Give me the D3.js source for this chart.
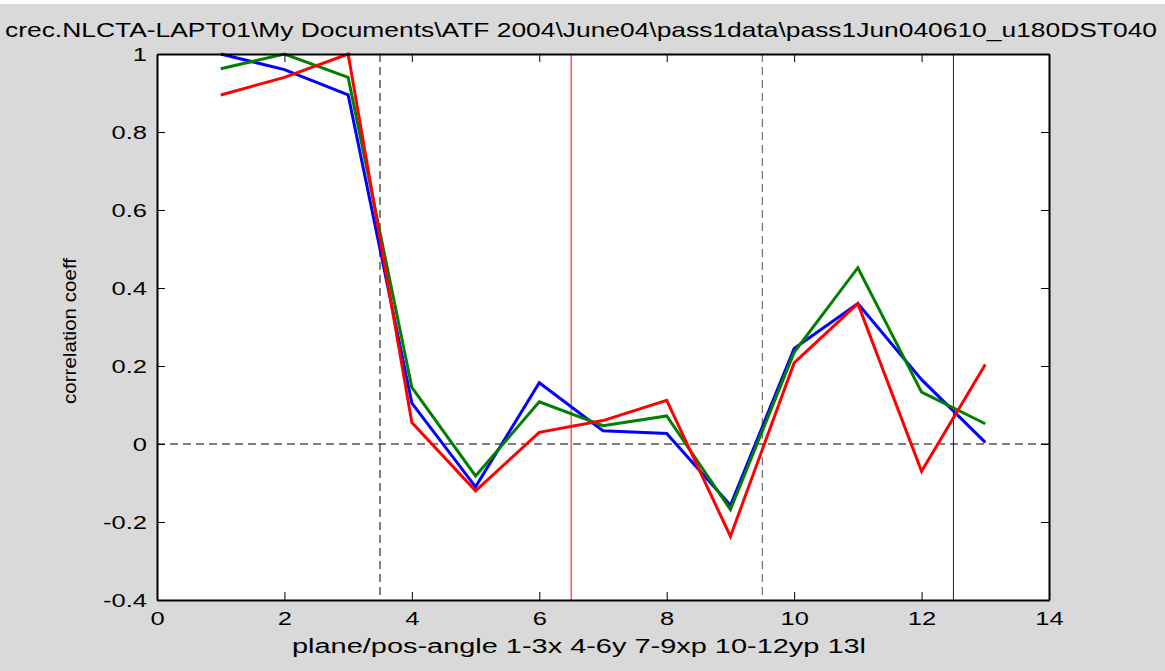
<!DOCTYPE html>
<html>
<head>
<meta charset="utf-8">
<script src="https://cdn.jsdelivr.net/npm/d3@7"></script>
<style>
  body { margin: 0; background: #d9d9d9; }
  text { font-family: "Liberation Sans", Arial, sans-serif; fill: #000; }
</style>
</head>
<body>
<div id="chart"></div>
<script>
// data
var planes = [1, 2, 3, 4, 5, 6, 7, 8, 9, 10, 11, 12, 13];
var blueVals = [1.0, 0.96, 0.895, 0.105, -0.11, 0.157, 0.034, 0.027, -0.157, 0.245, 0.36, 0.165, 0.004];
var greenVals = [0.962, 1.0, 0.94, 0.145, -0.082, 0.108, 0.047, 0.072, -0.168, 0.235, 0.452, 0.133, 0.052];
var redVals = [0.895, 0.94, 1.0, 0.055, -0.12, 0.03, 0.06, 0.112, -0.237, 0.208, 0.36, -0.07, 0.204];
var xTicks = [0, 2, 4, 6, 8, 10, 12, 14];
var yTicks = [-0.4, -0.2, 0, 0.2, 0.4, 0.6, 0.8, 1];
var dashedMarks = [3.5, 9.5];
var solidMarks = [{x: 6.5, c: "#ff0000"}, {x: 12.5, c: "#0000ff"}];

var svgWidth = 1165;
var svgHeight = 671;
var margin = {top: 54, right: 116, bottom: 71, left: 157};
var width = svgWidth - margin.left - margin.right;
var height = svgHeight - margin.top - margin.bottom;

var svg = d3.select("#chart")
    .append("svg")
    .attr("width", svgWidth)
    .attr("height", svgHeight);

svg.append("rect").attr("width", svgWidth).attr("height", svgHeight).attr("fill", "#d9d9d9");
svg.append("rect").attr("width", svgWidth).attr("height", 4).attr("fill", "#fff");

var chartGroup = svg.append("g")
    .attr("transform", "translate(" + margin.left + "," + margin.top + ")");

var xScale = d3.scaleLinear().domain([0, 14]).range([0, width]);
var yScale = d3.scaleLinear().domain([-0.4, 1]).range([height, 0]);

chartGroup.append("rect")
    .attr("width", width).attr("height", height)
    .attr("fill", "#fff");

// reference lines
chartGroup.selectAll(".vdash")
    .data(dashedMarks)
    .enter()
    .append("line")
    .attr("x1", d => xScale(d)).attr("x2", d => xScale(d))
    .attr("y1", 0).attr("y2", height)
    .attr("stroke", (d, i) => i == 0 ? "#000" : "#555")
    .attr("stroke-width", 1)
    .attr("stroke-dasharray", "8,5");

chartGroup.selectAll(".vsolid")
    .data(solidMarks)
    .enter()
    .append("line")
    .attr("x1", d => xScale(d.x)).attr("x2", d => xScale(d.x))
    .attr("y1", 0).attr("y2", height)
    .attr("stroke", d => d.c)
    .attr("stroke-width", 1);

chartGroup.append("line")
    .attr("x1", 0).attr("x2", width)
    .attr("y1", yScale(0)).attr("y2", yScale(0))
    .attr("stroke", "#000")
    .attr("stroke-width", 1)
    .attr("stroke-dasharray", "8,5");

// series
var line = d3.line()
    .x((d, i) => xScale(planes[i]))
    .y(d => yScale(d));

var series = [
    {vals: blueVals, color: "#0000ff"},
    {vals: greenVals, color: "#008000"},
    {vals: redVals, color: "#ff0000"}
];
series.forEach(function (s) {
    chartGroup.append("path")
        .datum(s.vals)
        .attr("d", line)
        .attr("fill", "none")
        .attr("stroke", s.color)
        .attr("stroke-width", 3)
        .attr("stroke-linejoin", "miter");
});

// axes, MATLAB style ticks pointing inwards
var bottomAxis = d3.axisBottom(xScale).tickValues(xTicks).tickSizeInner(-8).tickSizeOuter(0).tickPadding(12);
var topAxis = d3.axisTop(xScale).tickValues(xTicks).tickSizeInner(-8).tickSizeOuter(0).tickFormat("");
var leftAxis = d3.axisLeft(yScale).tickValues(yTicks).tickSizeInner(-8).tickSizeOuter(0)
    .tickFormat(d => String(Math.round(d * 10) / 10));
var rightAxis = d3.axisRight(yScale).tickValues(yTicks).tickSizeInner(-8).tickSizeOuter(0).tickFormat("");

var gb = chartGroup.append("g").attr("transform", `translate(0, ${height})`).call(bottomAxis);
var gt = chartGroup.append("g").call(topAxis);
var gl = chartGroup.append("g").call(leftAxis);
var gr = chartGroup.append("g").attr("transform", `translate(${width}, 0)`).call(rightAxis);

[gb, gt, gl, gr].forEach(function (g) {
    g.select(".domain").attr("stroke", "#000").attr("stroke-width", 2);
    g.selectAll(".tick line").attr("stroke", "#000").attr("stroke-width", 1);
    g.selectAll("text").style("font-family", "Liberation Sans, Arial, sans-serif").style("font-size", "18px").attr("fill", "#000");
});
// the source image is stretched sideways, so the labels are too
gb.selectAll("text").attr("transform", "scale(1.42,1)");
gl.selectAll("text").attr("x", 0).attr("dy", "0.35em").attr("transform", "translate(-10,0) scale(1.42,1)");

// titles
svg.append("text")
    .attr("x", 581)
    .attr("y", 37)
    .attr("text-anchor", "middle")
    .attr("textLength", 1152)
    .attr("lengthAdjust", "spacingAndGlyphs")
    .style("font-size", "21px")
    .text("crec.NLCTA-LAPT01\\My Documents\\ATF 2004\\June04\\pass1data\\pass1Jun040610_u180DST040");

svg.append("text")
    .attr("x", 579)
    .attr("y", 653)
    .attr("text-anchor", "middle")
    .attr("textLength", 574)
    .attr("lengthAdjust", "spacingAndGlyphs")
    .style("font-size", "20px")
    .text("plane/pos-angle 1-3x 4-6y 7-9xp 10-12yp 13l");

svg.append("text")
    .attr("transform", "translate(76, 331) rotate(-90)")
    .attr("text-anchor", "middle")
    .attr("textLength", 146)
    .attr("lengthAdjust", "spacingAndGlyphs")
    .style("font-size", "18px")
    .text("correlation coeff");
</script>
</body>
</html>
